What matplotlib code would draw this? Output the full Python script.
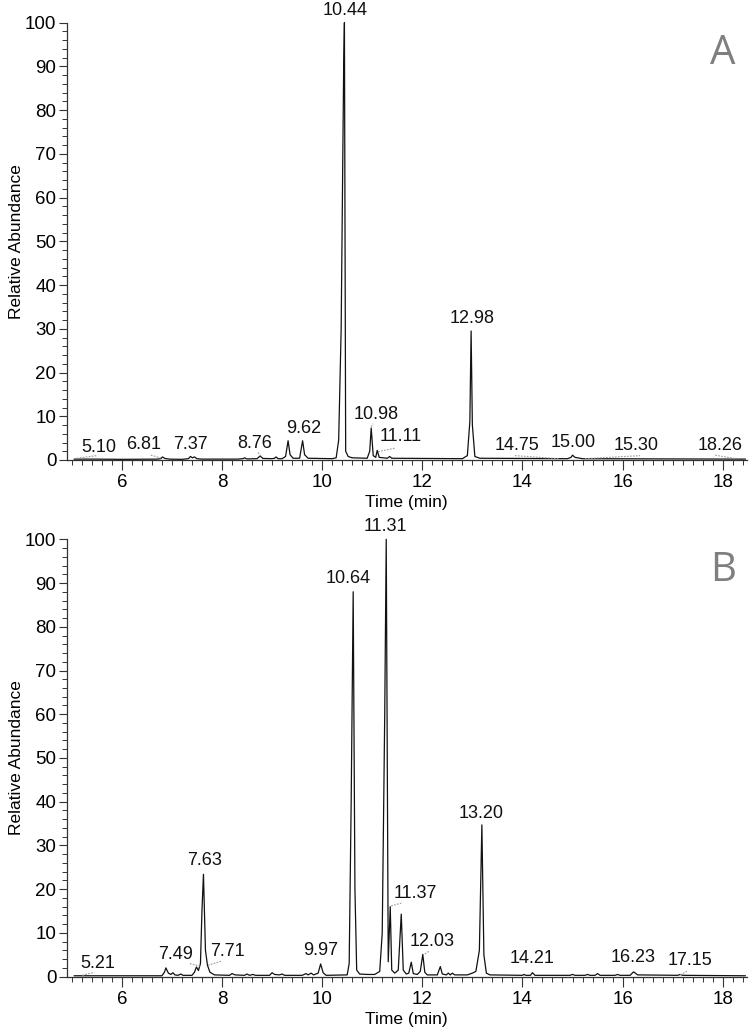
import matplotlib
matplotlib.use("Agg")
import matplotlib.pyplot as plt
from matplotlib.ticker import MultipleLocator

plt.rcParams['font.family'] = ['Liberation Sans', 'DejaVu Sans']

# ---------------- Panel A data (chromatogram trace vertices) ----------------
A_time = [5.05, 5.5, 6.0, 6.7, 6.78, 6.81, 6.86, 6.95, 7.2, 7.33, 7.37, 7.41, 7.45, 7.5, 7.6,
          8.3, 8.42, 8.45, 8.5, 8.7, 8.76, 8.82, 9.0, 9.05, 9.08, 9.12, 9.2, 9.27, 9.32, 9.36,
          9.42, 9.55, 9.61, 9.65, 9.72, 10.2, 10.28, 10.33, 10.38, 10.43, 10.445, 10.455, 10.47,
          10.52, 10.6, 10.9, 10.95, 10.98, 11.02, 11.07, 11.1, 11.14, 11.3, 11.35, 11.39, 12.8,
          12.9, 12.95, 12.975, 13.0, 13.05, 13.15, 14.9, 14.97, 15.0, 15.05, 15.2, 18.45]
A_abund = [0.2, 0.2, 0.15, 0.2, 0.3, 0.7, 0.35, 0.2, 0.15, 0.3, 0.8, 0.5, 0.7, 0.3, 0.2,
           0.2, 0.3, 0.5, 0.25, 0.3, 0.9, 0.35, 0.3, 0.4, 0.7, 0.3, 0.3, 0.8, 4.4, 1.2,
           0.4, 0.4, 4.4, 1.2, 0.4, 0.3, 0.5, 4.5, 30, 90, 100, 60, 2,
           0.8, 0.5, 0.4, 2, 7.3, 1, 0.6, 2.2, 0.6, 0.4, 0.8, 0.4, 0.3,
           1.0, 8.8, 29.5, 8, 0.8, 0.4, 0.3, 0.6, 1.1, 0.6, 0.3, 0.2]

A_labels = ["5.10", "6.81", "7.37", "8.76", "9.62", "10.44", "10.98", "11.11",
            "12.98", "14.75", "15.00", "15.30", "18.26"]
A_label_x = [5.55, 6.43, 7.37, 8.66, 9.63, 10.46, 11.08, 11.56,
             12.99, 13.89, 15.02, 16.28, 17.94]
A_label_y = [0.9, 1.6, 1.6, 1.9, 5.3, 100.8, 8.4, 3.4,
             30.5, 1.4, 2.1, 1.4, 1.4]
# leader lines: (x0, y0, x1, y1)
A_leaders = [(5.10, 0.4, 5.50, 1.0), (6.58, 1.1, 6.80, 0.4), (8.72, 1.7, 8.78, 0.9),
             (10.98, 7.6, 11.02, 8.3), (11.12, 1.9, 11.45, 2.7), (13.85, 1.0, 14.72, 0.3),
             (15.25, 0.3, 16.35, 1.0), (17.85, 1.1, 18.26, 0.3)]

# ---------------- Panel B data ----------------
B_time = [5.05, 6.8, 6.85, 6.88, 6.93, 6.98, 7.02, 7.06, 7.12, 7.18, 7.22, 7.4, 7.45, 7.49,
          7.53, 7.57, 7.6, 7.63, 7.67, 7.71, 7.76, 7.85, 8.15, 8.2, 8.26, 8.45, 8.5, 8.55, 8.62,
          8.67, 8.95, 9.0, 9.05, 9.15, 9.2, 9.25, 9.6, 9.68, 9.72, 9.78, 9.83, 9.92, 9.97, 10.02,
          10.08, 10.5, 10.54, 10.58, 10.62, 10.655, 10.69, 10.75, 10.9, 11.05, 11.15, 11.2, 11.25,
          11.28, 11.32, 11.36, 11.39, 11.45, 11.52, 11.58, 11.62, 11.68, 11.73, 11.78, 11.82, 11.9,
          11.96, 12.01, 12.05, 12.1, 12.3, 12.36, 12.4, 12.48, 12.52, 12.56, 12.6, 12.65, 12.9,
          13.0, 13.07, 13.14, 13.19, 13.23, 13.28, 13.35, 14.0, 14.03, 14.07, 14.16, 14.2, 14.25,
          14.95, 15.0, 15.05, 15.25, 15.3, 15.35, 15.45, 15.5, 15.55, 15.85, 15.9, 15.95, 16.15,
          16.22, 16.3, 17.1, 17.15, 17.2, 18.45]
B_abund = [0.2, 0.2, 1.0, 2.0, 0.8, 0.5, 0.9, 0.4, 0.3, 0.6, 0.3, 0.3, 1.0, 2.2,
           1.4, 3.0, 15, 23.4, 6, 2.6, 1.0, 0.4, 0.3, 0.7, 0.4, 0.3, 0.6, 0.3, 0.5,
           0.3, 0.3, 0.9, 0.5, 0.4, 0.6, 0.3, 0.3, 0.7, 0.4, 0.8, 0.4, 0.8, 2.9, 0.9,
           0.3, 0.4, 3, 40, 88, 20, 1.5, 0.6, 0.5, 0.5, 1.2, 10, 60,
           100, 3.4, 16, 1.5, 0.8, 1.5, 14.3, 1.5, 0.6, 0.8, 3.3, 0.7, 0.5,
           1.2, 5.1, 1.0, 0.4, 0.4, 2.3, 0.6, 0.4, 0.8, 0.4, 0.8, 0.4, 0.4,
           0.8, 1.2, 6, 34.7, 5, 0.8, 0.4, 0.3, 0.5, 0.3, 0.3, 0.9, 0.3,
           0.3, 0.5, 0.3, 0.3, 0.5, 0.3, 0.3, 0.7, 0.3, 0.3, 0.5, 0.3, 0.3,
           1.1, 0.4, 0.3, 0.5, 0.3, 0.2]

B_labels = ["5.21", "7.49", "7.63", "7.71", "9.97", "10.64", "11.31", "11.37",
            "12.03", "13.20", "14.21", "16.23", "17.15"]
B_label_x = [5.51, 7.08, 7.65, 8.1, 9.97, 10.53, 11.27, 11.86,
             12.19, 13.17, 14.19, 16.21, 17.34]
B_label_y = [1.1, 3.2, 24.6, 3.8, 4.0, 89.0, 101.0, 17.1,
             6.1, 35.4, 2.3, 2.4, 1.7]
B_leaders = [(5.21, 0.3, 5.45, 1.0), (7.36, 3.0, 7.56, 2.4), (7.72, 2.6, 7.98, 3.5),
             (11.38, 16.2, 11.58, 16.8), (12.05, 5.2, 12.15, 5.9), (17.15, 0.4, 17.3, 1.3)]

x_limits = (4.9, 18.48)
x_major = [6, 8, 10, 12, 14, 16, 18]

fig = plt.figure(figsize=(7.5, 10.3), dpi=100)
axA = fig.add_axes([0.089, 0.5534, 0.9067, 0.4246])
axB = fig.add_axes([0.089, 0.0518, 0.9067, 0.4246])

spine_col = '#333333'
tick_fs = 13.5
lab_fs = 13

for ax, t, a, labs, lx, ly, leads, letter in [
        (axA, A_time, A_abund, A_labels, A_label_x, A_label_y, A_leaders, 'A'),
        (axB, B_time, B_abund, B_labels, B_label_x, B_label_y, B_leaders, 'B')]:
    ax.plot(t, a, color='#111111', lw=0.9, clip_on=False)
    for (x0, y0, x1, y1) in leads:
        ax.plot([x0, x1], [y0, y1], color='#9a9a9a', lw=0.8, ls=(0, (1.5, 1.2)))
    for s, x, y in zip(labs, lx, ly):
        ax.text(x, y, s, ha='center', va='bottom', fontsize=lab_fs, color='#111111',
                clip_on=False)
    ax.set_xlim(*x_limits)
    ax.set_ylim(0, 100)
    ax.set_xticks(x_major)
    ax.xaxis.set_minor_locator(MultipleLocator(0.2))
    ax.yaxis.set_major_locator(MultipleLocator(10))
    ax.yaxis.set_minor_locator(MultipleLocator(2))
    for side in ['top', 'right']:
        ax.spines[side].set_visible(False)
    for side in ['left', 'bottom']:
        ax.spines[side].set_color(spine_col)
        ax.spines[side].set_linewidth(0.9)
    ax.tick_params(axis='both', which='major', direction='out', length=6, width=0.8,
                   color=spine_col, labelsize=tick_fs, pad=1.5)
    ax.tick_params(axis='x', which='major', length=7, pad=3)
    ax.tick_params(axis='both', which='minor', direction='out', length=3.5, width=0.7,
                   color=spine_col)
    ax.set_xlabel('Time (min)', fontsize=12.5, labelpad=3)
    ax.set_ylabel('Relative Abundance', fontsize=12.5, labelpad=0.5)
    ax.text(0.965, 0.975, letter, transform=ax.transAxes, fontsize=29, color='#7f7f7f',
            ha='center', va='top', family=['Open Sans', 'DejaVu Sans'])
    ax.patch.set_alpha(0)

fig.savefig('out.png', dpi=100, facecolor='white')
